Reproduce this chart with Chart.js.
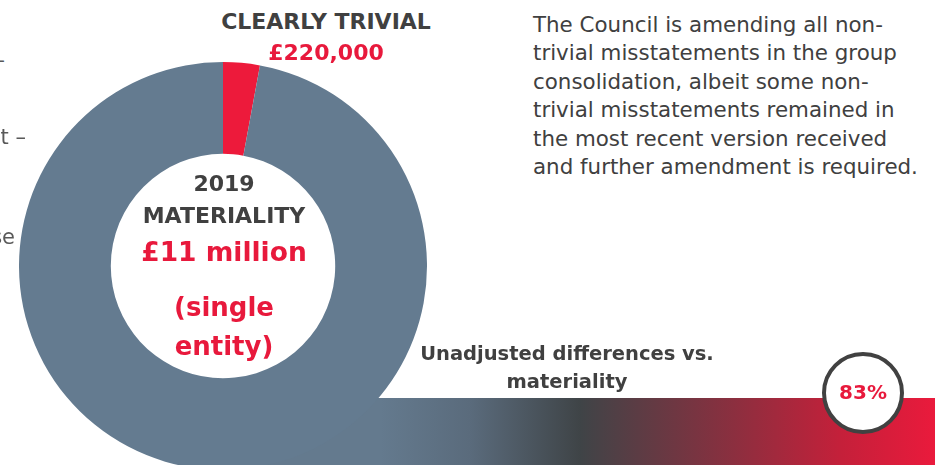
<!DOCTYPE html>
<html>
<head>
<meta charset="utf-8">
<script src="https://cdn.jsdelivr.net/npm/chart.js@4.4.1/dist/chart.umd.min.js"></script>
<style>
  html, body { margin:0; padding:0; background:#fff; }
  body { width:935px; height:465px; overflow:hidden; position:relative; font-family:"DejaVu Sans", sans-serif; }
  .t { position:absolute; white-space:nowrap; z-index:3; }
  .c { text-align:center; }
  #band { position:absolute; left:190px; top:398px; width:745px; height:67px; z-index:0;
    background: linear-gradient(to right, #647a8e 0px, #647a8e 190px, #5a6b7c 280px, #3f4447 390px, #8b2f3f 543px, #c4203a 650px, #ea1a3c 745px); }
  #wrap { position:absolute; left:19px; top:62px; width:408px; height:408px; z-index:1; }
  #badge { position:absolute; left:822px; top:352px; width:74px; height:74px; border:4px solid #414141; border-radius:50%; background:#fff; z-index:2; }
</style>
</head>
<body>
<div id="band"></div>
<div id="wrap"><canvas id="chart"></canvas></div>

<div class="t" style="right:930px; top:48px; font-size:21px; color:#595959;">–</div>
<div class="t" style="right:909px; top:125px; font-size:21px; color:#595959;">nt –</div>
<div class="t" style="right:920px; top:225px; font-size:21px; color:#595959;">se</div>

<div class="t c" style="left:126px; width:400px; top:9px; font-size:22px; font-weight:bold; color:#404040;">CLEARLY TRIVIAL</div>
<div class="t c" style="left:126px; width:400px; top:40px; font-size:22px; font-weight:bold; color:#e8193c;">£220,000</div>

<div class="t" style="left:533px; top:0px; font-size:21.4px; line-height:28.4px; color:#404040; padding-top:11px;">
The Council is amending all non-<br>trivial misstatements in the group<br>consolidation, albeit some non-<br>trivial misstatements remained in<br>the most recent version received<br>and further amendment is required.
</div>

<div class="t c" style="left:24px; width:400px; top:171px; font-size:22px; font-weight:bold; color:#404040;">2019</div>
<div class="t c" style="left:24px; width:400px; top:203px; font-size:22px; font-weight:bold; color:#404040;">MATERIALITY</div>
<div class="t c" style="left:24px; width:400px; top:236px; font-size:26.5px; font-weight:bold; color:#e8193c;">£11 million</div>
<div class="t c" style="left:24px; width:400px; top:292px; font-size:26px; font-weight:bold; color:#e8193c;">(single</div>
<div class="t c" style="left:24px; width:400px; top:331px; font-size:26px; font-weight:bold; color:#e8193c;">entity)</div>

<div class="t c" style="left:367px; width:400px; top:342px; font-size:19.5px; font-weight:bold; color:#404040;">Unadjusted differences vs.</div>
<div class="t c" style="left:367px; width:400px; top:370px; font-size:19.5px; font-weight:bold; color:#404040;">materiality</div>

<div id="badge"></div>
<div class="t c" style="left:763px; width:200px; top:380px; font-size:20px; font-weight:bold; color:#e8193c;">83%</div>

<script>
const categories = ["Clearly trivial", "Remaining materiality"];
const shares = [2.9, 97.1];
const sliceColors = ["#ed1a3b", "#647b90"];

new Chart(document.getElementById("chart"), {
  type: "doughnut",
  data: {
    labels: categories,
    datasets: [{
      data: shares,
      backgroundColor: sliceColors,
      borderWidth: 0,
      hoverOffset: 0,
      offset: 0
    }]
  },
  options: {
    responsive: true,
    maintainAspectRatio: false,
    animation: false,
    cutout: "55%",
    rotation: 0,
    layout: { padding: 0 },
    plugins: { legend: { display: false }, tooltip: { enabled: false } },
    events: []
  }
});
</script>
</body>
</html>
